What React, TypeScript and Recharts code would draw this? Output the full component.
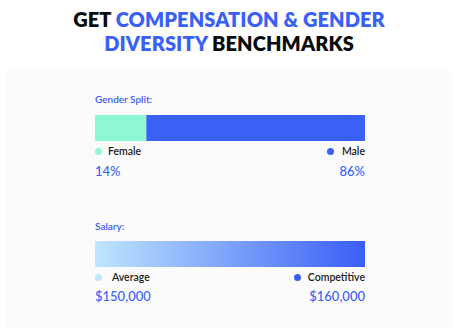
import { Bar, BarChart, XAxis, YAxis } from 'recharts';

const genderGroups = ['Female', 'Male'];
const genderShares = [19, 81];
const genderLabels = ['14%', '86%'];
const genderColors = ['#8ff6d6', '#3a61f6'];

const salaryGroups = ['Average', 'Competitive'];
const salaryValues = [150000, 160000];
const salaryLabels = ['$150,000', '$160,000'];
const salaryColors = ['#bfe5ff', '#3a5ef6'];

const BLUE = '#3a61f6';
const FONT = 'Lato, "Open Sans", sans-serif';

const genderRow = [{ name: 'gender', female: genderShares[0], male: genderShares[1] }];
const salaryRow = [{ name: 'salary', range: [salaryValues[0], salaryValues[1]] }];

const Dot = ({ color }: { color: string }) => (
  <span style={{ display: 'inline-block', width: 7, height: 7, borderRadius: '50%', background: color }} />
);

const LegendRow = ({ top, names, colors, gapLeft, gapRight }: { top: number; names: string[]; colors: string[]; gapLeft: number; gapRight: number }) => (
  <div style={{ position: 'absolute', left: 95, top, width: 270, height: 14, display: 'flex', justifyContent: 'space-between', alignItems: 'center', fontSize: 10.5, fontWeight: 600, color: '#1c1c1c' }}>
    <span style={{ display: 'flex', alignItems: 'center' }}>
      <Dot color={colors[0]} />
      <span style={{ marginLeft: gapLeft }}>{names[0]}</span>
    </span>
    <span style={{ display: 'flex', alignItems: 'center' }}>
      <Dot color={colors[1]} />
      <span style={{ marginLeft: gapRight }}>{names[1]}</span>
    </span>
  </div>
);

const ValueRow = ({ top, labels }: { top: number; labels: string[] }) => (
  <div style={{ position: 'absolute', left: 95, top, width: 270, display: 'flex', justifyContent: 'space-between', fontSize: 13, fontWeight: 500, color: BLUE, lineHeight: '16px' }}>
    <span>{labels[0]}</span>
    <span>{labels[1]}</span>
  </div>
);

export default function App() {
  return (
    <div style={{ position: 'absolute', left: 0, top: 0, width: 458, height: 328, background: '#ffffff', fontFamily: FONT, overflow: 'hidden' }}>
      <div style={{ position: 'absolute', left: 0, top: 7, width: 458, textAlign: 'center', fontSize: 20, fontWeight: 800, lineHeight: '24px', color: '#0b0b0b', letterSpacing: 0.1 }}>
        GET <span style={{ color: BLUE }}>COMPENSATION &amp; GENDER</span>
        <br />
        <span style={{ color: BLUE }}>DIVERSITY</span> BENCHMARKS
      </div>
      <div style={{ position: 'absolute', left: 5, top: 68, width: 448, height: 280, background: '#fbfbfb', borderRadius: 10 }} />

      <div style={{ position: 'absolute', left: 95, top: 93, fontSize: 10, color: BLUE, fontWeight: 600 }}>Gender Split:</div>
      <div style={{ position: 'absolute', left: 95, top: 115 }}>
        <BarChart width={270} height={26} data={genderRow} layout="vertical" margin={{ top: 0, right: 0, bottom: 0, left: 0 }} barCategoryGap={0}>
          <XAxis type="number" domain={[0, 100]} hide />
          <YAxis type="category" dataKey="name" hide />
          <Bar dataKey="female" stackId="g" fill={genderColors[0]} isAnimationActive={false} />
          <Bar dataKey="male" stackId="g" fill={genderColors[1]} isAnimationActive={false} />
        </BarChart>
      </div>
      <LegendRow top={144} names={genderGroups} colors={genderColors} gapLeft={6} gapRight={8} />
      <ValueRow top={163} labels={genderLabels} />

      <div style={{ position: 'absolute', left: 95, top: 220, fontSize: 10, color: BLUE, fontWeight: 600 }}>Salary:</div>
      <div style={{ position: 'absolute', left: 95, top: 241 }}>
        <BarChart width={270} height={26} data={salaryRow} layout="vertical" margin={{ top: 0, right: 0, bottom: 0, left: 0 }} barCategoryGap={0}>
          <defs>
            <linearGradient id="salaryGrad" x1="0" y1="0" x2="1" y2="0">
              <stop offset="0%" stopColor={salaryColors[0]} />
              <stop offset="100%" stopColor={salaryColors[1]} />
            </linearGradient>
          </defs>
          <XAxis type="number" domain={[salaryValues[0], salaryValues[1]]} hide />
          <YAxis type="category" dataKey="name" hide />
          <Bar dataKey="range" fill="url(#salaryGrad)" isAnimationActive={false} />
        </BarChart>
      </div>
      <LegendRow top={270} names={salaryGroups} colors={salaryColors} gapLeft={10} gapRight={7} />
      <ValueRow top={288} labels={salaryLabels} />
    </div>
  );
}
